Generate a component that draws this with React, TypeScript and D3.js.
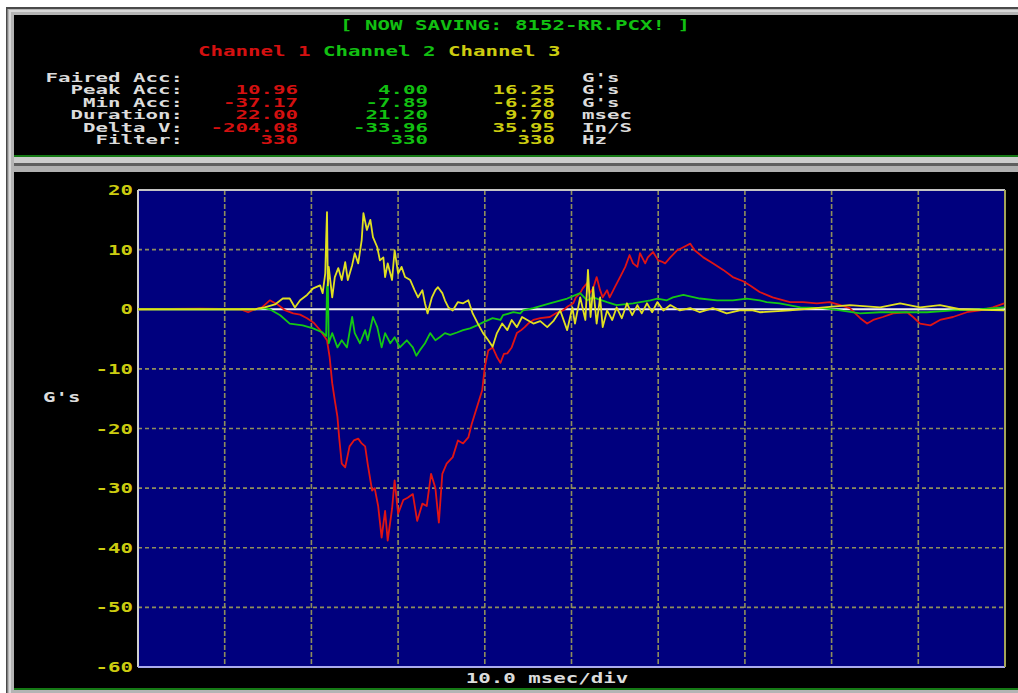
import React from 'react';
import * as d3 from 'd3';

// ---------- data (time in msec, acceleration in G's) ----------
const yTickValues = [20, 10, 0, -10, -20, -30, -40, -50, -60];
const xGridValues = [10, 20, 30, 40, 50, 60, 70, 80, 90];

const channelNames = ['Channel 1', 'Channel 2', 'Channel 3'];
const rowLabels = ['Faired Acc:', 'Peak Acc:', 'Min Acc:', 'Duration:', 'Delta V:', 'Filter:'];
const rowUnits = ["G's", "G's", "G's", 'msec', 'In/S', 'Hz'];
const ch1Stats = ['', '10.96', '-37.17', '22.00', '-204.08', '330'];
const ch2Stats = ['', '4.00', '-7.89', '21.20', '-33.96', '330'];
const ch3Stats = ['', '16.25', '-6.28', '9.70', '35.95', '330'];

const ch1: [number, number][] = [
  [0, 0], [7.2, 0.1], [11.8, 0], [12.7, -0.5], [13.5, 0], [14.3, 0.3], [15.2, 1.5], [16.1, 0.8],
  [17.0, -0.2], [17.9, -0.7], [18.7, -0.9], [19.5, -1.5], [20.3, -2.3], [21.0, -3.5], [21.8, -5.2],
  [22.1, -8.0], [22.4, -12.4], [22.7, -15.3], [23.0, -18.0], [23.2, -21.5], [23.5, -25.9], [23.9, -26.5],
  [24.4, -23.0], [24.9, -22.0], [25.4, -21.7], [25.8, -22.5], [26.2, -23.0], [26.5, -26.0], [27.0, -30.4],
  [27.3, -30.0], [27.7, -33.0], [28.1, -38.3], [28.5, -33.8], [28.8, -38.8], [29.3, -33.5], [29.6, -28.7],
  [30.0, -34.3], [30.6, -32.0], [31.1, -31.6], [31.7, -31.0], [32.2, -35.5], [32.8, -32.6], [33.3, -33.0],
  [33.8, -27.6], [34.3, -30.0], [34.7, -35.8], [35.1, -27.6], [35.6, -25.9], [36.3, -24.8], [36.9, -22.0],
  [37.5, -22.5], [38.1, -21.5], [38.5, -19.2], [39.1, -16.4], [39.7, -13.6], [40.0, -9.7], [40.4, -6.9],
  [40.9, -6.4], [41.4, -8.0], [41.8, -9.0], [42.2, -7.5], [42.6, -7.4], [43.1, -6.4], [43.7, -4.0],
  [44.2, -3.5], [44.6, -3.0], [45.0, -2.4], [45.6, -1.8], [46.4, -1.5], [47.5, -1.3], [48.3, -0.6],
  [49.0, -0.2], [49.6, 0.5], [50.2, 1.0], [50.5, 2.0], [51.0, 2.7], [51.3, 3.5], [51.8, 4.4], [52.1, 2.7],
  [52.5, 3.5], [52.9, 5.4], [53.3, 3.2], [53.6, 2.0], [54.1, 3.2], [54.4, 2.0], [55.0, 3.7], [55.6, 5.4],
  [56.2, 7.1], [56.7, 9.1], [57.1, 7.7], [57.6, 7.1], [57.9, 9.4], [58.5, 7.7], [58.8, 8.7], [59.4, 9.6],
  [60.0, 8.2], [60.4, 8.0], [60.8, 7.7], [61.4, 8.7], [62.2, 9.9], [62.9, 10.4], [63.7, 11.0], [64.2, 9.9],
  [65.2, 8.7], [66.3, 7.7], [67.5, 6.6], [68.6, 5.4], [69.8, 4.7], [70.6, 4.0], [71.7, 2.9], [73.2, 2.0],
  [75.2, 1.2], [76.7, 1.2], [78.3, 1.0], [79.8, 1.2], [81.0, 0.7], [82.1, 0.2], [83.3, -1.5], [84.1, -2.4],
  [84.8, -1.8], [85.9, -1.3], [87.1, -0.7], [88.7, -0.5], [89.4, -1.3], [90.2, -2.4], [91.4, -2.7],
  [92.5, -1.8], [94.0, -1.3], [95.6, -0.5], [97.1, -0.2], [98.6, 0.3], [99.9, 1.0],
];

const ch2: [number, number][] = [
  [0, 0], [7.2, 0], [13.5, 0], [14.6, 0.2], [15.2, 0], [16.4, -1.0], [17.5, -2.4], [19.0, -2.7],
  [20.2, -3.2], [21.3, -3.9], [21.7, -4.5], [21.8, 3.7], [21.9, 4.4], [22.0, -5.7], [22.4, -4.0],
  [23.0, -6.4], [23.5, -5.2], [24.1, -6.4], [24.7, -1.3], [25.0, -4.0], [25.6, -5.7], [26.2, -3.5],
  [26.5, -5.2], [27.1, -1.3], [27.6, -3.0], [28.1, -6.4], [28.5, -4.0], [29.1, -5.7], [29.6, -4.7],
  [30.2, -6.4], [31.0, -5.2], [31.7, -6.4], [32.1, -7.8], [32.5, -6.9], [33.1, -5.7], [33.7, -4.0],
  [34.3, -5.2], [34.8, -4.7], [35.4, -4.0], [36.0, -4.3], [36.8, -3.9], [37.5, -3.5], [38.3, -3.2],
  [39.1, -2.7], [39.8, -2.2], [40.9, -1.5], [41.8, -1.8], [42.1, -1.0], [43.3, -0.5], [44.1, -0.7],
  [44.4, -0.2], [45.6, 0.2], [47.5, 1.0], [49.5, 1.8], [51.0, 2.7], [51.8, 1.5], [52.5, 2.0], [54.1, 1.2],
  [55.2, 0.7], [57.1, 1.0], [59.1, 1.5], [59.9, 1.8], [61.0, 1.5], [61.7, 2.0], [62.9, 2.4], [64.8, 1.8],
  [66.8, 1.5], [68.6, 1.5], [70.2, 1.8], [71.7, 1.5], [72.5, 1.2], [74.0, 1.0], [76.4, 0.3], [79.0, 0.2],
  [81.0, -0.2], [83.3, -0.7], [85.6, -0.5], [88.7, -0.5], [91.0, -0.5], [94.0, -0.2], [97.1, 0], [99.9, 0.3],
];

const ch3: [number, number][] = [
  [0, 0], [7.2, 0], [13.5, 0], [14.6, 0.3], [15.8, 0.8], [16.7, 1.8], [17.5, 1.8], [18.1, 0.3],
  [18.7, 1.5], [19.5, 2.4], [20.2, 3.5], [21.0, 4.0], [21.3, 2.7], [21.6, 6.0], [21.7, 11.6], [21.8, 16.3],
  [21.9, 4.0], [22.0, 7.1], [22.4, 2.0], [22.7, 5.4], [23.1, 6.9], [23.5, 4.9], [23.9, 7.9], [24.2, 4.9],
  [24.7, 7.4], [25.0, 9.4], [25.4, 7.7], [25.8, 11.6], [26.0, 16.1], [26.4, 13.3], [26.8, 15.0],
  [27.1, 12.1], [27.6, 10.4], [27.9, 8.2], [28.3, 8.7], [28.5, 5.4], [28.8, 7.7], [29.3, 4.9], [29.6, 9.9],
  [30.0, 6.0], [30.4, 7.1], [30.8, 5.4], [31.4, 4.9], [31.9, 3.2], [32.3, 2.0], [32.8, 3.2], [33.1, 1.0],
  [33.4, -0.7], [33.9, 2.0], [34.3, 3.2], [34.6, 3.7], [35.1, 2.7], [35.4, 1.5], [35.8, 0.3], [36.3, -0.2],
  [36.9, 1.2], [37.5, 1.0], [38.1, 1.5], [38.6, -0.7], [39.2, -2.4], [39.8, -4.0], [40.4, -5.2],
  [40.9, -6.3], [41.4, -4.0], [42.0, -2.4], [42.6, -3.5], [43.1, -1.8], [43.7, -3.0], [44.3, -1.3],
  [44.9, -1.8], [45.6, -2.4], [46.4, -2.0], [47.2, -3.0], [47.9, -2.0], [48.7, -0.2], [49.5, -3.5],
  [50.1, 0.3], [50.4, -2.4], [51.0, 2.0], [51.6, -1.8], [51.9, 6.6], [52.2, -1.3], [52.5, 3.7],
  [52.9, -2.4], [53.3, 2.0], [53.6, -3.0], [54.1, -0.2], [54.7, -1.8], [55.2, 0.3], [55.8, -1.5],
  [56.4, 1.0], [57.0, -1.0], [57.6, 0.7], [58.1, -0.7], [58.7, 1.0], [59.3, -0.5], [59.9, 1.2],
  [60.6, -0.2], [61.4, 0.7], [62.5, -0.2], [63.7, 0.2], [64.8, -0.5], [66.3, 0.2], [67.9, -0.7],
  [69.4, -0.2], [70.9, -0.2], [71.7, -0.5], [75.2, -0.2], [82.1, 0.7], [85.6, 0.3], [87.9, 1.0],
  [90.2, 0.3], [92.5, 0.7], [94.8, 0], [99.9, -0.2],
];

// ---------- look ----------
const W = 1018;
const H = 693;
const CW = 12.5; // character cell width of the DOS-style font
const ROW = 12.5;
const FONT = "'DejaVu Sans Mono', 'Liberation Mono', monospace";
const RED = '#e01414';
const GREEN = '#14c814';
const YELLOW = '#e0e020';
const TXT_RED = '#d41010';
const TXT_GREEN = '#12c012';
const TXT_YELLOW = '#cccc10';
const WHITE_TXT = '#dcdcdc';
const GRID = '#8e8e5c';

type TProps = { x: number; y: number; s: string; fill: string; anchor?: 'start' | 'middle' | 'end'; size?: number };
function DosText({ x, y, s, fill, anchor = 'start', size = 14 }: TProps) {
  if (!s) return null;
  return (
    <text
      x={x}
      y={y}
      fill={fill}
      textAnchor={anchor}
      fontFamily={FONT}
      fontWeight="bold"
      fontSize={size}
      textLength={s.length * CW}
      lengthAdjust="spacingAndGlyphs"
      xmlSpace="preserve"
    >
      {s}
    </text>
  );
}

export default function App() {
  const x = d3.scaleLinear().domain([0, 100]).range([138, 1005]);
  const y = d3.scaleLinear().domain([20, -60]).range([190, 667]);
  const line = d3
    .line<[number, number]>()
    .x((d) => x(d[0]))
    .y((d) => y(d[1]));

  const [x0, x1] = x.range();
  const [yTop, yBot] = y.range();

  const chColors = [TXT_RED, TXT_GREEN, TXT_YELLOW];
  const statCols = [
    { end: 298, vals: ch1Stats, color: TXT_RED },
    { end: 428, vals: ch2Stats, color: TXT_GREEN },
    { end: 555, vals: ch3Stats, color: TXT_YELLOW },
  ];
  const rowY = (i: number) => 81.5 + i * ROW;

  return (
    <svg
      width={W}
      height={H}
      style={{ position: 'absolute', left: 0, top: 0, display: 'block' }}
    >
      {/* window frame */}
      <rect x={0} y={0} width={W} height={H} fill="#ffffff" />
      <rect x={6} y={7} width={W - 6} height={H - 7} fill="#b4b4b4" />
      <rect x={6} y={7} width={W - 6} height={2} fill="#4a4a4a" />
      <rect x={6} y={7} width={1.5} height={H - 7} fill="#4a4a4a" />
      <rect x={9} y={10} width={W - 9} height={2} fill="#d8d8d8" />
      <rect x={9} y={10} width={2} height={H - 10} fill="#d8d8d8" />

      {/* top info panel */}
      <rect x={14} y={15} width={W - 14} height={140} fill="#000000" />
      <rect x={14} y={155} width={W - 14} height={2} fill="#157a15" />
      <rect x={14} y={157} width={W - 14} height={6} fill="#cccccc" />
      <rect x={14} y={163} width={W - 14} height={3} fill="#5e5e5e" />
      <rect x={14} y={166} width={W - 14} height={6} fill="#b0b0b0" />

      {/* lower chart panel */}
      <rect x={14} y={172} width={W - 14} height={516} fill="#000000" />
      <rect x={14} y={688} width={W - 14} height={2} fill="#157a15" />

      {/* header texts */}
      <DosText x={340} y={30} s="[ NOW SAVING: 8152-RR.PCX! ]" fill={TXT_GREEN} />
      {channelNames.map((c, i) => (
        <DosText key={c} x={198 + i * 10 * CW} y={56} s={c} fill={chColors[i]} />
      ))}
      {rowLabels.map((l, i) => (
        <DosText key={l} x={183} y={rowY(i)} s={l} fill={WHITE_TXT} anchor="end" size={13} />
      ))}
      {statCols.map((col, ci) =>
        col.vals.map((v, i) => (
          <DosText key={`${ci}-${i}`} x={col.end} y={rowY(i)} s={v} fill={col.color} anchor="end" size={13} />
        ))
      )}
      {rowUnits.map((u, i) => (
        <DosText key={`u${i}`} x={582} y={rowY(i)} s={u} fill={WHITE_TXT} size={13} />
      ))}

      {/* plot area */}
      <rect x={x0} y={yTop} width={x1 - x0} height={yBot - yTop} fill="#00007e" />
      {xGridValues.map((v) => (
        <line
          key={`gx${v}`}
          x1={x(v)}
          x2={x(v)}
          y1={yTop}
          y2={yBot}
          stroke={GRID}
          strokeWidth={1.6}
          strokeDasharray="5,2"
        />
      ))}
      {yTickValues
        .filter((v) => v !== 20 && v !== -60 && v !== 0)
        .map((v) => (
          <line
            key={`gy${v}`}
            x1={x0}
            x2={x1}
            y1={y(v)}
            y2={y(v)}
            stroke={GRID}
            strokeWidth={1.6}
            strokeDasharray="4,3"
          />
        ))}
      {/* plot border */}
      <line x1={x0} x2={x1} y1={yTop} y2={yTop} stroke="#c4c4c4" strokeWidth={2} />
      <line x1={x0} x2={x0} y1={yTop} y2={yBot} stroke="#d0d0d0" strokeWidth={2} />
      <line x1={x0} x2={x1} y1={yBot} y2={yBot} stroke="#aaaaee" strokeWidth={2} />
      <line x1={x1} x2={x1} y1={yTop} y2={yBot} stroke="#a4a458" strokeWidth={2} />

      {/* zero line */}
      <line x1={x0} x2={x1} y1={y(0)} y2={y(0)} stroke="#f0f0f0" strokeWidth={2} />

      {/* traces */}
      <path d={line(ch1) || ''} fill="none" stroke={RED} strokeWidth={1.8} strokeLinejoin="round" />
      <path d={line(ch2) || ''} fill="none" stroke={GREEN} strokeWidth={1.8} strokeLinejoin="round" />
      <path d={line(ch3) || ''} fill="none" stroke={YELLOW} strokeWidth={1.8} strokeLinejoin="round" />

      {/* y tick labels */}
      {yTickValues.map((v) => (
        <DosText key={`yt${v}`} x={133} y={y(v) + 5} s={String(v)} fill={TXT_YELLOW} anchor="end" />
      ))}
      <DosText x={43} y={402} s="G's" fill={WHITE_TXT} />
      <DosText x={547} y={683} s="10.0 msec/div" fill={WHITE_TXT} anchor="middle" />
    </svg>
  );
}
